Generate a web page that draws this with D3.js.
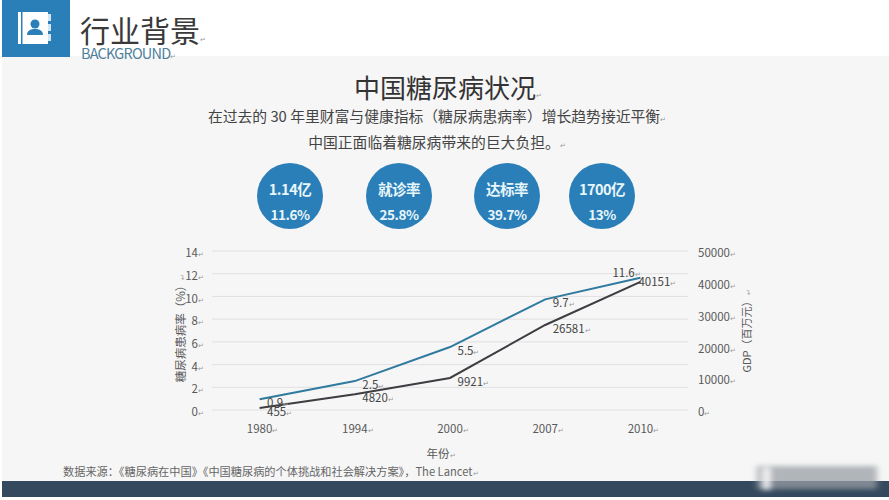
<!DOCTYPE html>
<html>
<head>
<meta charset="utf-8">
<script src="https://cdnjs.cloudflare.com/ajax/libs/d3/7.8.5/d3.min.js"></script>
<style>
   html, body { margin: 0; padding: 0; background: #fff; }
   svg { display: block; }
   text { font-family: "Noto Sans CJK SC", "Noto Sans", sans-serif; }
</style>
</head>
<body>
<div id="chart"></div>
<script>
const years = ['1980', '1994', '2000', '2007', '2010'];
const prevalence = [0.9, 2.5, 5.5, 9.7, 11.6];
const gdp = [455, 4820, 9921, 26581, 40151];
const leftTicks = [0, 2, 4, 6, 8, 10, 12, 14];
const rightTicks = [0, 10000, 20000, 30000, 40000, 50000];
const badgeTop = ['1.14亿', '就诊率', '达标率', '1700亿'];
const badgeBottom = ['11.6%', '25.8%', '39.7%', '13%'];
const subtitleLines = ['在过去的 30 年里财富与健康指标（糖尿病患病率）增长趋势接近平衡', '中国正面临着糖尿病带来的巨大负担。'];

const width = 889, height = 500;
const margin = { left: 212, right: 201, top: 250.5, bottom: 90.5 };
const blue = '#2a7fb8', lineBlue = '#2f7a9e', dark = '#3d3d42', grey = '#595959';

const svg = d3.select('#chart').append('svg')
   .attr('width', width)
   .attr('height', height);

// small return marks left over in the source slide
const addMark = (sel, color = '#999') => sel.append('tspan')
   .attr('font-size', '7px')
   .attr('fill', color)
   .text('↵');

const defs = svg.append('defs');
defs.append('filter').attr('id', 'smear').attr('x', '-20%').attr('y', '-40%').attr('width', '140%').attr('height', '180%')
   .append('feGaussianBlur').attr('stdDeviation', '3 2.5');

// page background and header
svg.append('rect').attr('x', 2).attr('y', 56).attr('width', width - 2).attr('height', 425).attr('fill', '#f6f6f6');
svg.append('rect').attr('x', 2).attr('y', 0).attr('width', 68).attr('height', 57).attr('fill', blue);

const icon = svg.append('g').attr('transform', 'translate(18, 12)');
icon.append('rect').attr('width', 30).attr('height', 32).attr('fill', '#fff');
icon.append('rect').attr('x', 3).attr('width', 1.5).attr('height', 32).attr('fill', blue);
icon.append('rect').attr('x', 30).attr('y', 2).attr('width', 3).attr('height', 7).attr('fill', '#d5e6f2');
icon.append('rect').attr('x', 30).attr('y', 12).attr('width', 3).attr('height', 7).attr('fill', '#d5e6f2');
icon.append('rect').attr('x', 30).attr('y', 22).attr('width', 3).attr('height', 7).attr('fill', '#d5e6f2');
icon.append('circle').attr('cx', 17).attr('cy', 12).attr('r', 4.5).attr('fill', blue);
icon.append('path').attr('d', 'M9 23 Q9 18 15 17 L19 17 Q25 18 25 23 Z').attr('fill', blue);

svg.append('text').attr('x', 80).attr('y', 42).attr('font-size', '30px').attr('fill', '#3a3a3a').text('行业背景')
   .call(addMark);
svg.append('text').attr('x', 81).attr('y', 59).attr('font-size', '14.5px').attr('letter-spacing', '-0.8px').attr('fill', '#4f7f9c').text('BACKGROUND')
   .call(addMark);

// headline block
svg.append('text').attr('x', 448).attr('y', 98).attr('text-anchor', 'middle').attr('font-size', '26px').attr('fill', '#333').text('中国糖尿病状况')
   .call(addMark);
svg.selectAll('.subtitle').data(subtitleLines).enter().append('text')
   .attr('class', 'subtitle')
   .attr('x', 437)
   .attr('y', (d, i) => 122 + i * 25.5)
   .attr('text-anchor', 'middle')
   .attr('font-size', '14.8px')
   .attr('fill', '#444')
   .text(d => d)
   .call(addMark);

// badges
const badgeX = d3.scaleOrdinal().domain(badgeTop).range([290, 399, 507, 602]);
const badges = svg.selectAll('.badge').data(badgeTop).enter().append('g')
   .attr('class', 'badge')
   .attr('transform', d => `translate(${badgeX(d)}, 196)`);
badges.append('circle').attr('r', 33).attr('fill', blue);
badges.append('text').attr('text-anchor', 'middle').attr('y', -1).attr('font-size', '14.5px').attr('letter-spacing', '-0.5px').attr('font-weight', 700).attr('fill', '#e8f6fb').text(d => d);
badges.append('text').attr('text-anchor', 'middle').attr('y', 24).attr('font-size', '13.5px').attr('letter-spacing', '-0.5px').attr('font-weight', 700).attr('fill', '#e8f6fb').text((d, i) => badgeBottom[i]);

// chart
const innerW = width - margin.left - margin.right;
const innerH = height - margin.top - margin.bottom;
const g = svg.append('g').attr('transform', `translate(${margin.left}, ${margin.top})`);

const x = d3.scaleBand().domain(years).range([0, innerW]);
const yLeft = d3.scaleLinear().domain([0, 14]).range([innerH, 0]);
const yRight = d3.scaleLinear().domain([0, 50000]).range([innerH, 0]);

const leftAxis = g.append('g')
   .call(d3.axisLeft(yLeft).tickValues(leftTicks).tickSize(-innerW).tickPadding(8));
leftAxis.select('.domain').remove();
leftAxis.selectAll('line').attr('stroke', '#e0e0e0');

const rightAxis = g.append('g')
   .attr('transform', `translate(${innerW}, 0)`)
   .call(d3.axisRight(yRight).tickValues(rightTicks).tickFormat(d3.format('d')).tickSize(0).tickPadding(10));
rightAxis.select('.domain').remove();

const bottomAxis = g.append('g')
   .attr('transform', `translate(0, ${innerH})`)
   .call(d3.axisBottom(x).tickSize(0).tickPadding(15));
bottomAxis.select('.domain').remove();

g.selectAll('.tick text')
   .attr('font-size', '11.5px')
   .attr('font-family', '"Noto Sans CJK SC", sans-serif')
   .attr('fill', grey)
   .call(addMark);
leftAxis.selectAll('.tick text').attr('transform', 'translate(0, 2.5)');
rightAxis.selectAll('.tick text').attr('transform', 'translate(0, 2.5)');
bottomAxis.selectAll('.tick text').attr('transform', 'translate(3, 0)');

const center = d => x(d) + x.bandwidth() / 2;

const prevalenceLine = d3.line().x((d, i) => center(years[i])).y(d => yLeft(d));
const gdpLine = d3.line().x((d, i) => center(years[i])).y(d => yRight(d));

g.append('path').datum(prevalence).attr('d', prevalenceLine).attr('fill', 'none').attr('stroke', lineBlue).attr('stroke-width', 2);
g.append('path').datum(gdp).attr('d', gdpLine).attr('fill', 'none').attr('stroke', dark).attr('stroke-width', 2);

// value labels sit to the lower right of the points, the last blue one to the left
g.selectAll('.label-prev').data(prevalence).enter().append('text')
   .attr('class', 'label-prev')
   .attr('x', (d, i) => center(years[i]) + (i === 4 ? -28 : 7.5))
   .attr('y', (d, i) => yLeft(d) + (i === 4 ? -0.5 : 8))
   .attr('font-size', '11.5px')
   .attr('fill', '#444')
   .text(d => d)
   .call(addMark);

g.selectAll('.label-gdp').data(gdp).enter().append('text')
   .attr('class', 'label-gdp')
   .attr('x', (d, i) => center(years[i]) + (i === 4 ? -2 : 7.5))
   .attr('y', (d, i) => yRight(d) + (i === 4 ? 4 : 8))
   .attr('font-size', '11.5px')
   .attr('fill', '#444')
   .text(d => d)
   .call(addMark);

// axis titles
svg.append('text').attr('transform', 'translate(185, 328) rotate(-90)').attr('text-anchor', 'middle')
   .attr('font-size', '11.5px').attr('fill', grey).text('糖尿病患病率（%）').call(addMark);
svg.append('text').attr('transform', 'translate(751, 331) rotate(-90)').attr('text-anchor', 'middle')
   .attr('font-size', '11px').attr('fill', grey).text('GDP（百万元）').call(addMark);
svg.append('text').attr('x', 441).attr('y', 458).attr('text-anchor', 'middle')
   .attr('font-size', '11.5px').attr('fill', grey).text('年份').call(addMark);

// source and footer bar
svg.append('text').attr('x', 63).attr('y', 476).attr('font-size', '11.2px').attr('fill', '#666')
   .text('数据来源：《糖尿病在中国》《中国糖尿病的个体挑战和社会解决方案》，The Lancet').call(addMark);
svg.append('rect').attr('x', 2).attr('y', 481).attr('width', width - 2).attr('height', 16).attr('fill', '#34495e');

// blurred-out watermark in the corner
const smear = svg.append('g').attr('filter', 'url(#smear)');
smear.append('rect').attr('x', 757).attr('y', 466).attr('width', 120).attr('height', 23).attr('fill', '#9a9fa5').attr('opacity', 0.75);
smear.append('rect').attr('x', 763).attr('y', 468).attr('width', 7).attr('height', 22).attr('fill', '#fff').attr('opacity', 0.9);
</script>
</body>
</html>
